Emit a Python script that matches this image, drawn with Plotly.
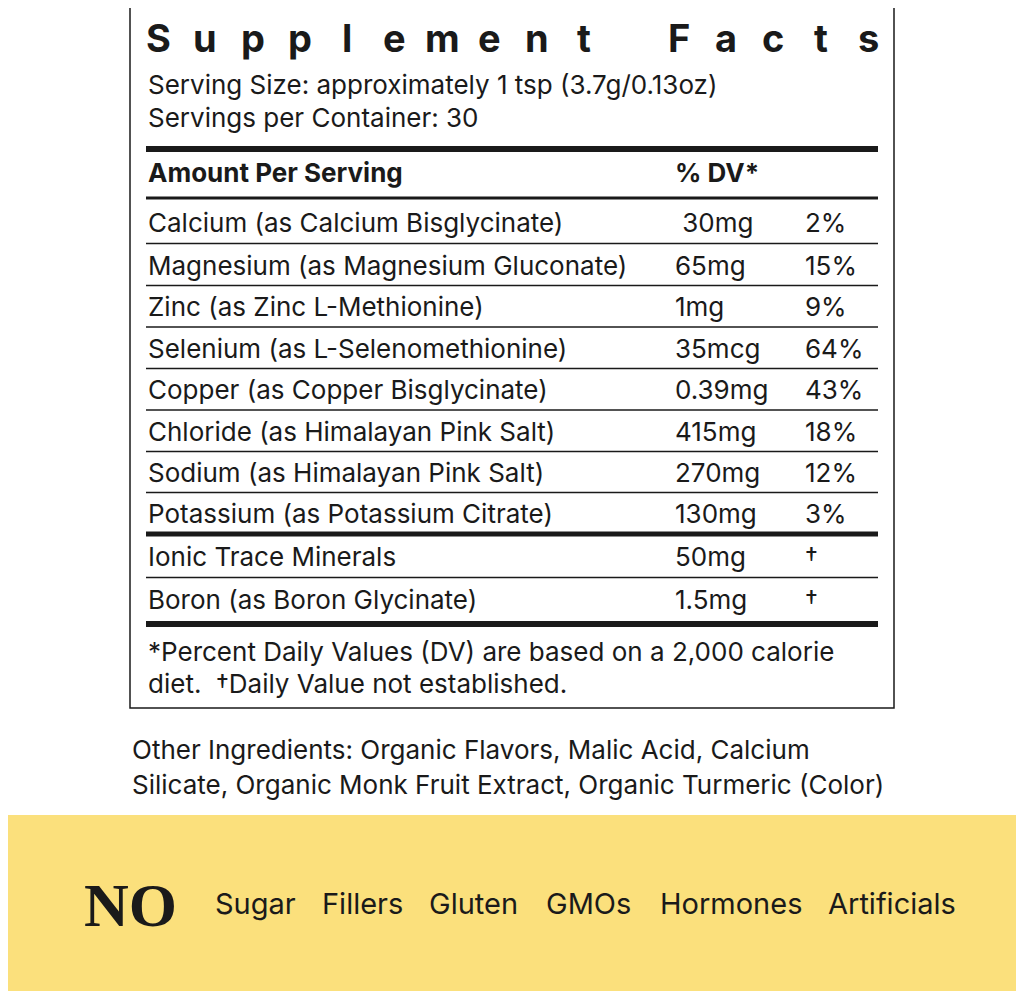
import plotly.graph_objects as go

title = "Supplement Facts"
serving_lines = ["Serving Size: approximately 1 tsp (3.7g/0.13oz)", "Servings per Container: 30"]
nutrients = ["Calcium (as Calcium Bisglycinate)", "Magnesium (as Magnesium Gluconate)",
             "Zinc (as Zinc L-Methionine)", "Selenium (as L-Selenomethionine)",
             "Copper (as Copper Bisglycinate)", "Chloride (as Himalayan Pink Salt)",
             "Sodium (as Himalayan Pink Salt)", "Potassium (as Potassium Citrate)",
             "Ionic Trace Minerals", "Boron (as Boron Glycinate)"]
amounts = [" 30mg", "65mg", "1mg", "35mcg", "0.39mg", "415mg", "270mg", "130mg", "50mg", "1.5mg"]
dv = ["2%", "15%", "9%", "64%", "43%", "18%", "12%", "3%", "†", "†"]
footnote = ["*Percent Daily Values (DV) are based on a 2,000 calorie", "diet.  †Daily Value not established."]
other = ["Other Ingredients: Organic Flavors, Malic Acid, Calcium",
         "Silicate, Organic Monk Fruit Extract, Organic Turmeric (Color)"]
no_items = ["Sugar", "Fillers", "Gluten", "GMOs", "Hormones", "Artificials"]

FONT = "Inter"
INK = "#1a1a1a"
row_y = [222, 265, 306, 348, 389, 431, 472, 513, 556, 599]
no_x = [213, 320, 427, 544, 658, 826]

fig = go.Figure()
ann = []
shapes = []

def txt(x, y, s, size=26, bold=False, family=FONT, anchor="left", color=INK):
    ann.append(dict(x=x, y=y, text=f"<b>{s}</b>" if bold else s, showarrow=False,
                    xanchor=anchor, yanchor="middle",
                    font=dict(family=family, size=size, color=color)))

def line(y, w, x0=146, x1=878):
    shapes.append(dict(type="line", x0=x0, x1=x1, y0=y, y1=y, line=dict(color=INK, width=w)))

# yellow band and box
shapes.append(dict(type="rect", x0=0, x1=1040, y0=815, y1=1010, fillcolor="#fbe07c", line_width=0, layer="below"))
shapes.append(dict(type="rect", x0=130, x1=894, y0=3, y1=708, line=dict(color=INK, width=1.5)))

# spaced title
letters = list(title)
step = (868 - 158) / (len(letters) - 1)
for i, ch in enumerate(letters):
    if ch != " ":
        txt(158 + i * step, 38, ch, size=38, bold=True, anchor="center")

txt(146, 84, serving_lines[0])
txt(146, 117, serving_lines[1])
line(149, 6)
txt(146, 172, "Amount Per Serving", bold=True)
txt(673, 172, "% DV*", bold=True)
line(198, 3)

for i, (n, a, d) in enumerate(zip(nutrients, amounts, dv)):
    txt(146, row_y[i], n)
    txt(673, row_y[i], a)
    txt(803, row_y[i], d)
for i in range(len(row_y) - 1):
    if i == 7:
        line(534, 5)
    else:
        line((row_y[i] + row_y[i + 1]) / 2, 1.5)
line(624, 6)

txt(146, 651, footnote[0])
txt(146, 683, footnote[1])
txt(130, 749, other[0])
txt(130, 784, other[1])

txt(130, 905, "NO", size=62, bold=True, family="Liberation Serif", anchor="center")
for x, s in zip(no_x, no_items):
    txt(x, 903, s, size=29)

# page has an 8px body margin, so shift the view to compensate
fig.update_layout(width=1024, height=991, margin=dict(l=0, r=0, t=0, b=0),
                  paper_bgcolor="white", plot_bgcolor="white",
                  xaxis=dict(range=[8, 1032], visible=False, fixedrange=True),
                  yaxis=dict(range=[999, 8], visible=False, fixedrange=True),
                  annotations=ann, shapes=shapes, showlegend=False)
fig.write_html("out.html")
